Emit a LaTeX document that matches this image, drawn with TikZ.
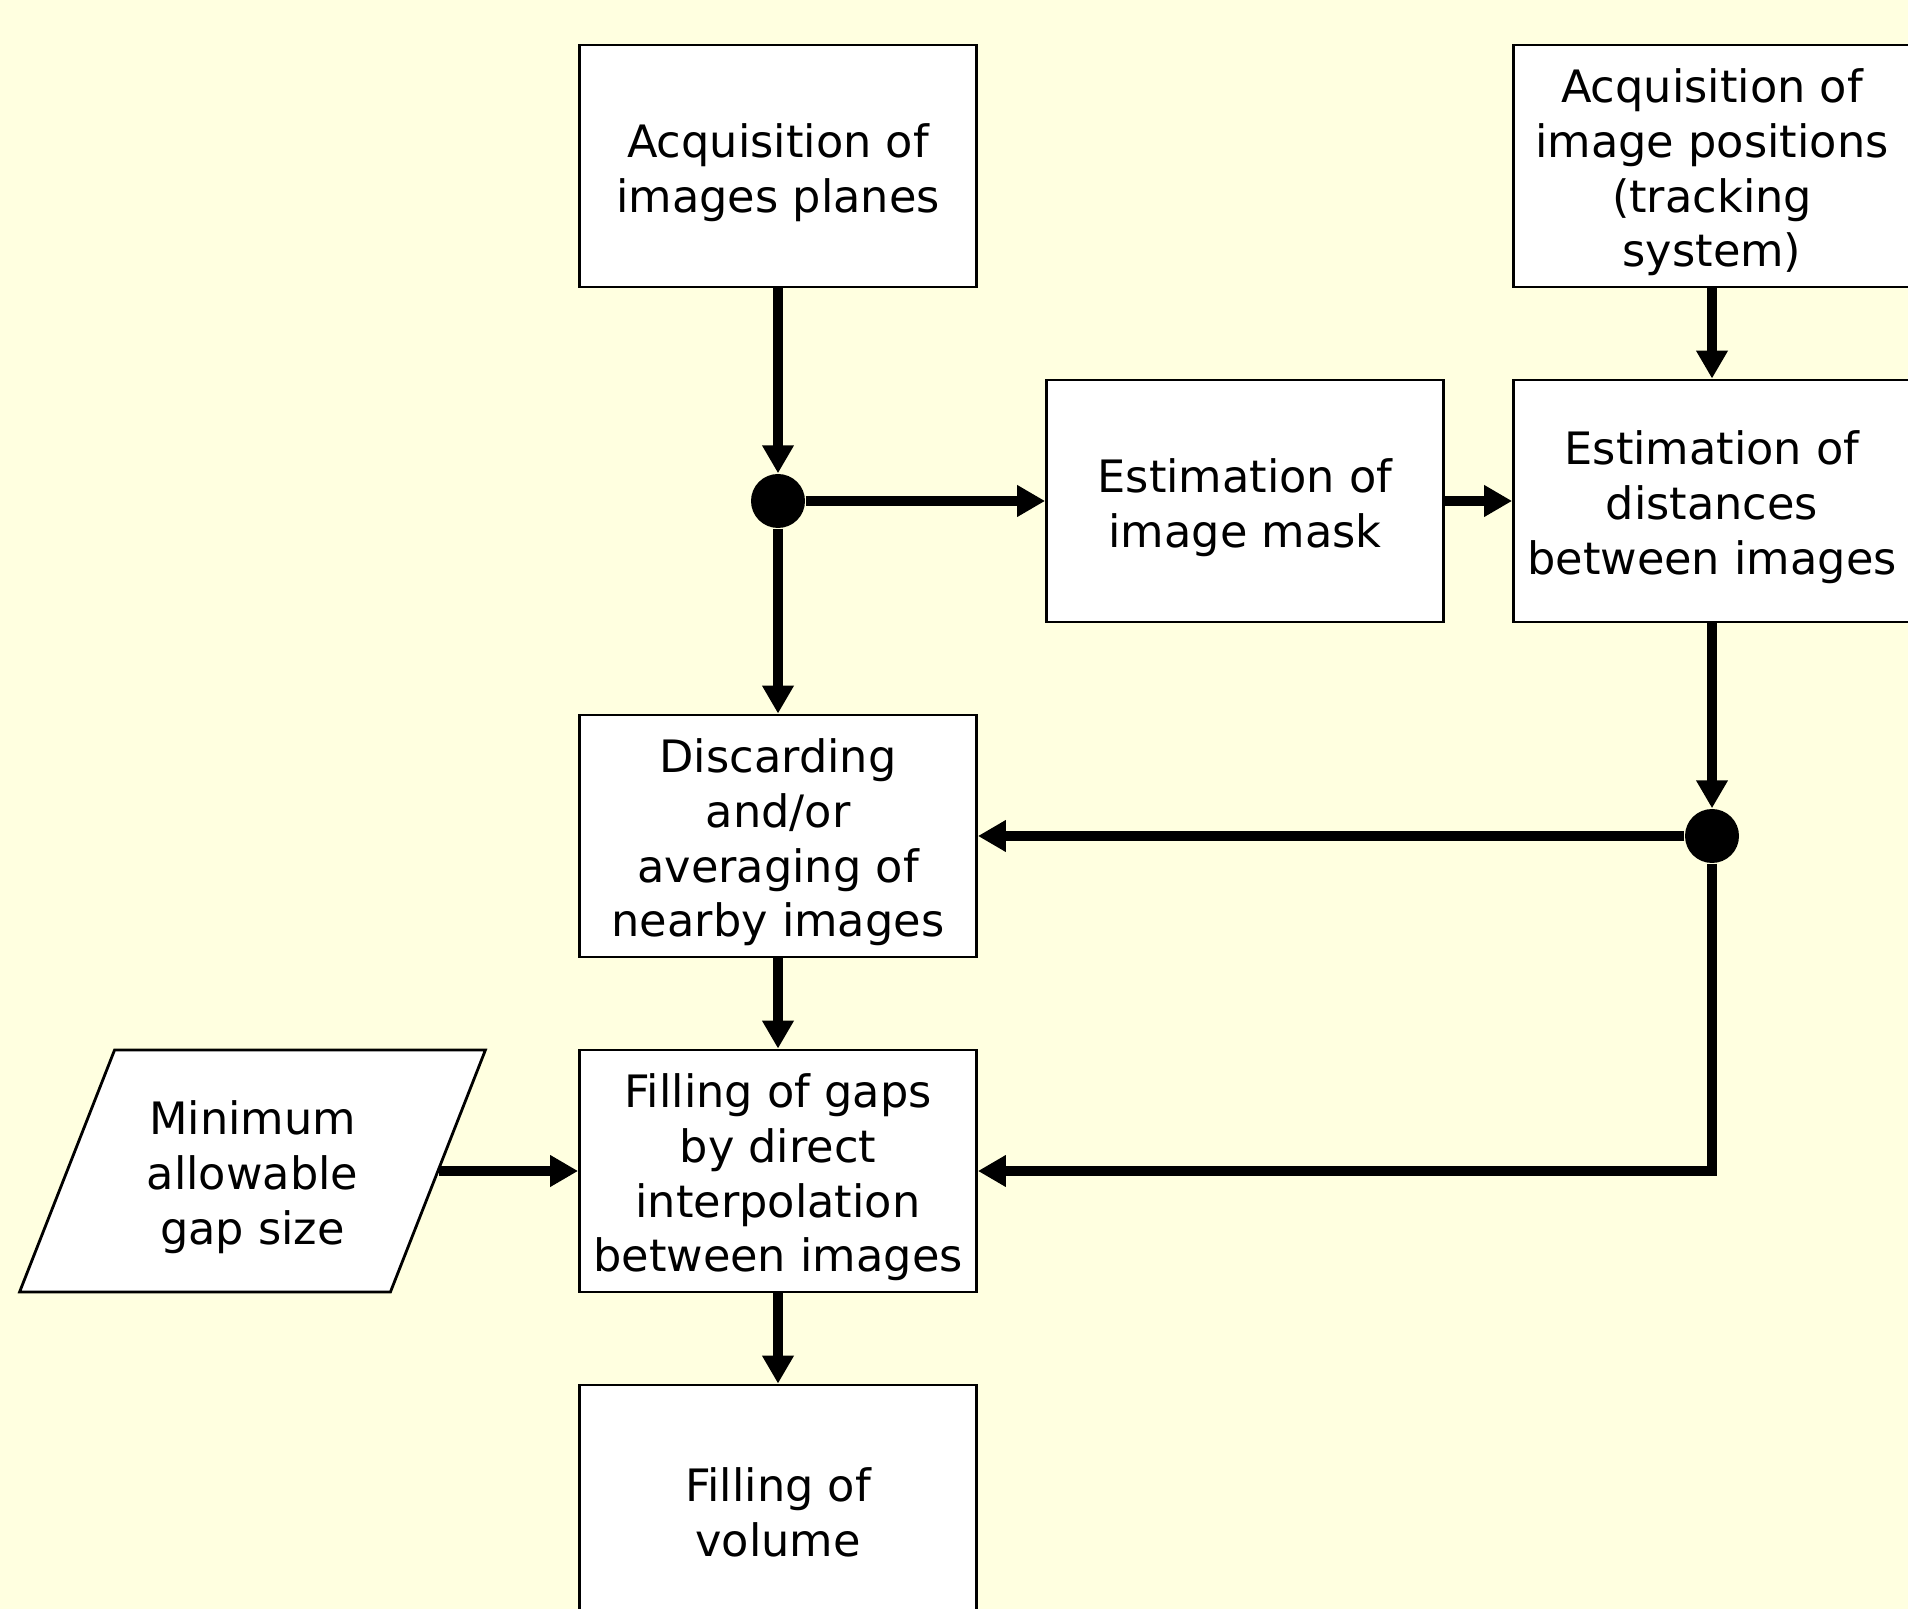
\documentclass[tikz,border=0pt]{standalone}
\usepackage{fontspec}
\setmainfont{DejaVu Sans}
\usepackage{xcolor}
\usetikzlibrary{arrows.meta,shapes.geometric,positioning}
\definecolor{paper}{HTML}{FFFFE0}

\begin{document}
\begin{tikzpicture}[node distance=3.35cm and 4.67cm,on grid,
    boxtext/.style={align=center,font=\fontsize{12.7}{15.6}\selectfont,yshift=-1.8pt},
    block/.style={draw,fill=white,line width=0.8pt,minimum width=3.97cm,minimum height=2.42cm,
      label={[boxtext]center:{#1}}},
    datain/.style={trapezium,trapezium left angle=71,trapezium right angle=109,trapezium stretches=true,
      draw,fill=white,line width=0.8pt,minimum width=4.66cm,minimum height=2.42cm,
      label={[boxtext]center:{#1}}},
    junction/.style={circle,fill=black,inner sep=0pt,minimum size=0.54cm},
    flow/.style={line width=0.1cm,-{Triangle[length=0.28cm,width=0.3cm]}}]
           \useasboundingbox[fill=paper] (0,0) rectangle (19.08,-16.09);
           \node[block={Acquisition of\\images planes}] (acq) at (7.78,-1.66) {};
           \node[junction] (j1) [below=of acq] {};
           \node[block={Estimation of\\image mask}] (mask) [right=of j1] {};
           \node[block={Estimation of\\distances\\between images}] (dist) [right=of mask] {};
           \node[block={Acquisition of\\image positions\\(tracking\\system)}] (pos) [above=of dist] {};
           \node[block={Discarding\\and/or\\averaging of\\nearby images}] (disc) [below=of j1] {};
           \node[junction] (j2) [below=of dist] {};
           \node[block={Filling of gaps\\by direct\\interpolation\\between images}] (gaps) [below=of disc] {};
           \node[datain={Minimum\\allowable\\gap size}] (gap) [left=5.255cm of gaps] {};
           \node[block={Filling of\\volume}] (vol) [below=of gaps] {};
           \path[flow]
            (acq) edge (j1)
            (j1) edge (mask)
            (j1) edge (disc)
            (mask) edge (dist)
            (pos) edge (dist)
            (dist) edge (j2)
            (j2) edge (disc)
            (disc) edge (gaps)
            (gap) edge (gaps)
            (gaps) edge (vol);
           \draw[flow] (j2) |- (gaps);
        \end{tikzpicture}
\end{document}
